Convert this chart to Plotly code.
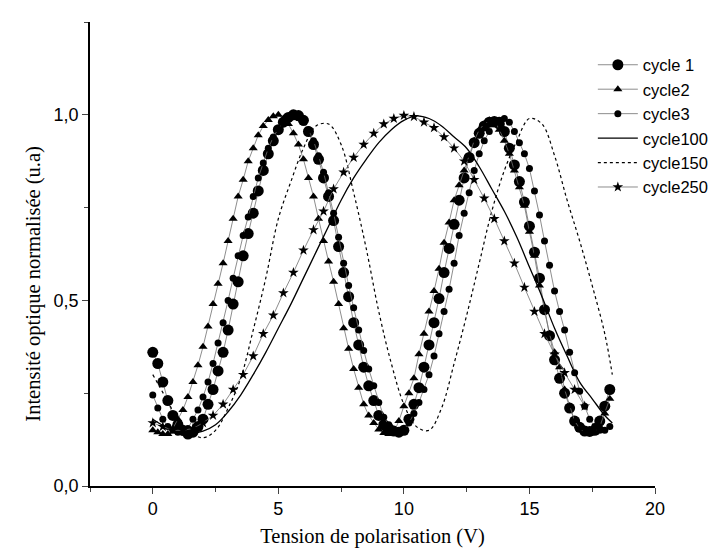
import numpy as np
import plotly.graph_objects as go

# ---------------- data ----------------
x_fine = [round(0.2 * i, 2) for i in range(92)]  # 0 .. 18.2 V

cycle1 = [0.36, 0.33, 0.28, 0.23, 0.19, 0.165, 0.15, 0.14, 0.145, 0.16,
          0.18, 0.22, 0.26, 0.31, 0.36, 0.42, 0.49, 0.55, 0.62, 0.68,
          0.735, 0.795, 0.85, 0.895, 0.93, 0.96, 0.98, 0.993, 1.0, 0.998,
          0.985, 0.955, 0.92, 0.88, 0.83, 0.78, 0.715, 0.645, 0.575, 0.51,
          0.44, 0.38, 0.32, 0.27, 0.23, 0.19, 0.165, 0.155, 0.148, 0.145,
          0.15, 0.18, 0.22, 0.265, 0.32, 0.38, 0.44, 0.505, 0.575, 0.64,
          0.705, 0.77, 0.83, 0.885, 0.925, 0.95, 0.97, 0.98, 0.982, 0.975,
          0.955, 0.91, 0.865, 0.82, 0.765, 0.70, 0.63, 0.56, 0.475, 0.405,
          0.34, 0.29, 0.25, 0.21, 0.175, 0.158, 0.148, 0.147, 0.15, 0.175,
          0.215, 0.26]

cycle2 = [0.15, 0.145, 0.14, 0.14, 0.155, 0.18, 0.205, 0.24, 0.28, 0.325,
          0.375, 0.43, 0.49, 0.545, 0.60, 0.66, 0.72, 0.78, 0.825, 0.875,
          0.91, 0.945, 0.97, 0.986, 0.996, 1.0, 0.99, 0.975, 0.95, 0.92,
          0.88, 0.83, 0.78, 0.72, 0.66, 0.605, 0.55, 0.49, 0.425, 0.37,
          0.315, 0.265, 0.22, 0.19, 0.17, 0.152, 0.143, 0.14, 0.145, 0.175,
          0.215, 0.25, 0.29, 0.355, 0.41, 0.47, 0.525, 0.585, 0.655, 0.71,
          0.77, 0.81, 0.85, 0.89, 0.93, 0.96, 0.975, 0.985, 0.985, 0.96,
          0.93, 0.895, 0.85, 0.805, 0.755, 0.685, 0.62, 0.54, 0.475, 0.41,
          0.36, 0.32, 0.26, 0.215, 0.175, 0.155, 0.145, 0.142, 0.145, 0.16,
          0.195, 0.235]

cycle3 = [0.245, 0.21, 0.18, 0.16, 0.15, 0.145, 0.145, 0.155, 0.18, 0.205,
          0.24, 0.28, 0.33, 0.385, 0.44, 0.50, 0.56, 0.62, 0.675, 0.725,
          0.78, 0.83, 0.87, 0.91, 0.94, 0.962, 0.978, 0.988, 0.996, 0.992,
          0.98, 0.96, 0.93, 0.89, 0.845, 0.79, 0.735, 0.67, 0.60, 0.54,
          0.48, 0.42, 0.365, 0.315, 0.27, 0.225, 0.185, 0.165, 0.152, 0.148,
          0.152, 0.17, 0.195, 0.225, 0.26, 0.30, 0.35, 0.41, 0.47, 0.53,
          0.60, 0.675, 0.735, 0.79, 0.85, 0.895, 0.93, 0.955, 0.975, 0.985,
          0.99, 0.98, 0.955, 0.925, 0.895, 0.855, 0.795, 0.73, 0.66, 0.595,
          0.525, 0.47, 0.42, 0.36, 0.305, 0.255, 0.215, 0.18, 0.16, 0.15,
          0.15, 0.16]

x_star = [round(0.4 * i, 2) for i in range(44)]  # 0 .. 17.2 V
cycle250 = [0.17, 0.16, 0.15, 0.15, 0.155, 0.17, 0.19, 0.22, 0.26, 0.30,
            0.35, 0.41, 0.46, 0.52, 0.575, 0.635, 0.69, 0.74, 0.80, 0.845,
            0.885, 0.92, 0.95, 0.975, 0.99, 0.998, 0.995, 0.98, 0.965, 0.94,
            0.91, 0.875, 0.825, 0.775, 0.72, 0.66, 0.60, 0.535, 0.47, 0.41,
            0.355, 0.305, 0.26, 0.215]

x_line = [0, 0.5, 1, 1.5, 2, 2.5, 3, 3.5, 4, 4.5, 5, 5.5, 6, 6.5, 7, 7.5, 8,
          8.5, 9, 9.5, 10, 10.5, 11, 11.5, 12, 12.5, 13, 13.5, 14, 14.5, 15,
          15.5, 16, 16.5, 17, 17.5, 18, 18.3]
cycle100 = [0.18, 0.16, 0.148, 0.142, 0.148, 0.165, 0.20, 0.245, 0.30, 0.36,
            0.425, 0.49, 0.56, 0.63, 0.70, 0.77, 0.83, 0.88, 0.925, 0.96,
            0.985, 0.997, 0.99, 0.97, 0.94, 0.91, 0.86, 0.80, 0.74, 0.67,
            0.59, 0.51, 0.425, 0.35, 0.28, 0.235, 0.19, 0.17]
cycle150 = [0.30, 0.24, 0.18, 0.145, 0.13, 0.15, 0.21, 0.29, 0.42, 0.56,
            0.72, 0.82, 0.91, 0.97, 0.975, 0.92, 0.79, 0.64, 0.47, 0.33,
            0.22, 0.16, 0.15, 0.21, 0.33, 0.46, 0.60, 0.74, 0.85, 0.93,
            0.99, 0.975, 0.89, 0.77, 0.66, 0.54, 0.41, 0.30]

x_ticks = [0, 5, 10, 15, 20]
y_ticks = [0.0, 0.5, 1.0]
y_ticktext = ["0,0", "0,5", "1,0"]

# ---------------- figure ----------------
GRAY = "#707070"
fig = go.Figure()
fig.add_trace(go.Scatter(x=x_fine, y=cycle1, name="cycle 1", mode="lines+markers",
                         line=dict(color=GRAY, width=0.8),
                         marker=dict(symbol="circle", size=11, color="black")))
fig.add_trace(go.Scatter(x=x_fine, y=cycle2, name="cycle2", mode="lines+markers",
                         line=dict(color=GRAY, width=0.8),
                         marker=dict(symbol="triangle-up", size=8, color="black")))
fig.add_trace(go.Scatter(x=x_fine, y=cycle3, name="cycle3", mode="lines+markers",
                         line=dict(color=GRAY, width=0.8),
                         marker=dict(symbol="circle", size=7, color="black")))
fig.add_trace(go.Scatter(x=x_line, y=cycle100, name="cycle100", mode="lines",
                         line=dict(color="black", width=1.3, shape="spline")))
fig.add_trace(go.Scatter(x=x_line, y=cycle150, name="cycle150", mode="lines",
                         line=dict(color="black", width=1.2, dash="dot", shape="spline")))
fig.add_trace(go.Scatter(x=x_star, y=cycle250, name="cycle250", mode="lines+markers",
                         line=dict(color=GRAY, width=0.8),
                         marker=dict(symbol="star", size=8, color="black")))

fig.update_layout(
    width=718, height=550,
    margin=dict(l=82, r=65, t=14, b=72),
    paper_bgcolor="white", plot_bgcolor="white",
    font=dict(family="Liberation Sans, Arial", size=18, color="black"),
    showlegend=True,
    legend=dict(x=0.89, y=0.945, xanchor="left", yanchor="top",
                bgcolor="rgba(0,0,0,0)", font=dict(size=16.5),
                itemwidth=40, tracegroupgap=0),
    annotations=[dict(text="Intensité optique normalisée (u.a)", textangle=-90,
                      xref="paper", yref="paper", x=-0.10, y=0.435,
                      xanchor="center", yanchor="middle", showarrow=False,
                      font=dict(family="Liberation Serif, Times New Roman", size=20.5))],
)
fig.update_xaxes(
    range=[-2.5, 20], tickvals=x_ticks, ticks="outside", ticklen=6, tickwidth=1.3,
    showline=True, linecolor="black", linewidth=1.5, showgrid=False, zeroline=False,
    minor=dict(ticks="outside", ticklen=4, dtick=2.5, tick0=0, tickwidth=1.2, showgrid=False),
    title=dict(text="Tension de polarisation (V)",
               font=dict(family="Liberation Serif, Times New Roman", size=20.5), standoff=10),
)
fig.update_yaxes(
    range=[0, 1.25], tickvals=y_ticks, ticktext=y_ticktext, ticks="outside", ticklen=6,
    tickwidth=1.3, showline=True, linecolor="black", linewidth=1.5, showgrid=False,
    zeroline=False,
    minor=dict(ticks="outside", ticklen=4, dtick=0.25, tick0=0, tickwidth=1.2, showgrid=False),
)

fig.write_html("out.html")
